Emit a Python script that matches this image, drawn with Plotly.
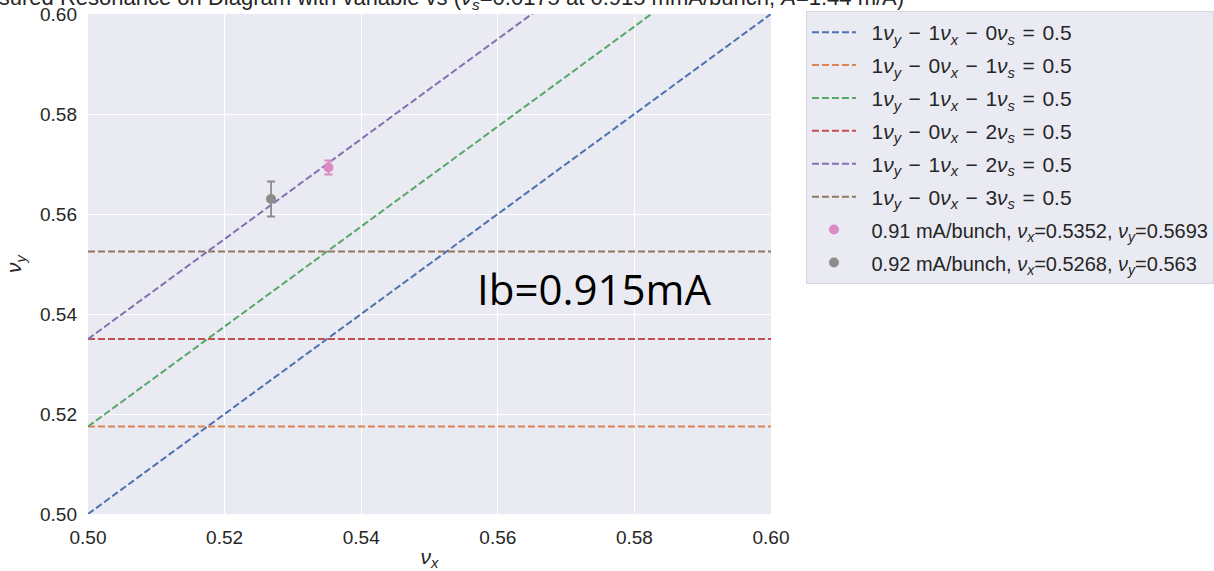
import plotly.graph_objects as go

# Resonance lines: n_y*nu_y - n_x*nu_x - n_s*nu_s = 0.5
nu_s = 0.0175
res_nx = [1, 0, 1, 0, 1, 0]
res_ns = [0, 1, 1, 2, 2, 3]
res_colors = ["#4c72b0", "#dd8452", "#55a868", "#c44e52", "#8172b3", "#937860"]
x_range = [0.50, 0.60]

# Measured tunes
pt_labels = ["0.91 mA/bunch, <i>ν<sub>x</sub></i>=0.5352, <i>ν<sub>y</sub></i>=0.5693",
             "0.92 mA/bunch, <i>ν<sub>x</sub></i>=0.5268, <i>ν<sub>y</sub></i>=0.563"]
pt_nux = [0.5352, 0.5268]
pt_nuy = [0.5693, 0.5630]
pt_err = [0.0014, 0.0035]
pt_colors = ["#da8bc3", "#8c8c8c"]

PAD = "\u2002"   # gap between legend symbol and label
HS = "\u200a"    # hair space around operators, mathtext-like spacing

fig = go.Figure()

for i, (nx, ns, c) in enumerate(zip(res_nx, res_ns, res_colors)):
    xs = x_range
    ys = [0.5 + nx * (x - 0.5) + ns * nu_s for x in xs]
    name = (f"{PAD}1<i>ν<sub>y</sub></i>{HS} − {HS}{nx}<i>ν<sub>x</sub></i>{HS} − {HS}"
            f"{ns}<i>ν<sub>s</sub></i>{HS} = {HS}0.5")
    fig.add_trace(go.Scatter(x=xs, y=ys, mode="lines", name=name, legendgroup=f"g{i}",
                             line=dict(color=c, width=2, dash="7px,3px")))

for j, (lab, x, y, e, c) in enumerate(zip(pt_labels, pt_nux, pt_nuy, pt_err, pt_colors)):
    fig.add_trace(go.Scatter(x=[x], y=[y], mode="markers",
                             name=f'{PAD}<span style="font-size:20px">{lab}</span>',
                             legendgroup=f"p{j}",
                             marker=dict(color=c, size=10),
                             error_y=dict(type="data", array=[e], color=c,
                                          thickness=1.8, width=4)))

fig.add_annotation(x=0.5741, y=0.5452, xref="x", yref="y", text="Ib=0.915mA",
                   showarrow=False, font=dict(family="Open Sans", size=42, color="black"))

fig.add_annotation(x=0.5, y=1.0, xref="paper", yref="paper", yshift=-1,
                   xanchor="center", yanchor="bottom",
                   text=("Measured Resonance on Diagram with variable vs "
                         "(<i>ν<sub>s</sub></i>=0.0175 at 0.915 mmA/bunch, <i>A</i>=1.44 m/A)"),
                   showarrow=False, font=dict(family="Liberation Sans", size=22, color="#262626"))

axis_common = dict(showgrid=True, gridcolor="white", gridwidth=1.3, zeroline=False,
                   showline=False, ticks="", tickfont=dict(size=19, color="#262626"),
                   tickformat=".2f", dtick=0.02, ticklabelstandoff=10)

fig.update_layout(
    width=1214, height=571,
    margin=dict(l=88, r=443, t=14, b=57, autoexpand=False),
    paper_bgcolor="white", plot_bgcolor="#eaeaf2",
    font=dict(family="Liberation Sans", color="#262626"),
    xaxis=dict(range=x_range, title=dict(text="<i>ν<sub>x</sub></i>", font=dict(size=21), standoff=4),
               **axis_common),
    yaxis=dict(range=[0.50, 0.60], title=dict(text="<i>ν<sub>y</sub></i>", font=dict(size=21), standoff=12),
               **axis_common),
    legend=dict(x=1.0512, y=1.006, xanchor="left", yanchor="top",
                bgcolor="#eaeaf2", bordercolor="#d4d4dc", borderwidth=1,
                font=dict(size=21, color="#262626"), tracegroupgap=2.6,
                itemwidth=44),
    showlegend=True,
)

fig.write_html("out.html")
